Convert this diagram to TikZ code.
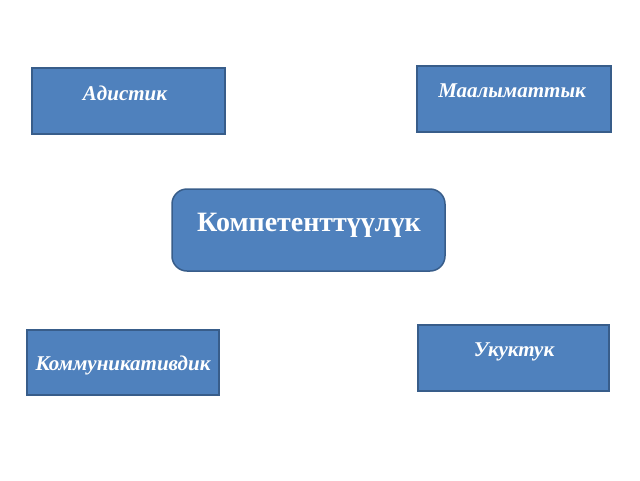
\documentclass[tikz,border=0pt]{standalone}
\usepackage{fontspec}
\setmainfont{Liberation Serif}
\definecolor{boxfill}{HTML}{4F81BD}
\definecolor{boxline}{HTML}{385D8A}
\begin{document}
\begin{tikzpicture}[x=1pt,y=-1pt,
  smallbox/.style={draw=boxline,line width=1.5pt,fill=boxfill},
  bigbox/.style={draw=boxline,line width=1.5pt,fill=boxfill,rounded corners=15pt},
  smalltext/.style={text=white,font=\fontsize{21}{24}\selectfont\bfseries\itshape,inner sep=0pt},
  bigtext/.style={text=white,font=\fontsize{28}{32}\selectfont\bfseries,inner sep=0pt}]
\useasboundingbox (0,0) rectangle (640,480);
\draw[smallbox] (32,68) rectangle (225,134);
\draw[smallbox] (417,66) rectangle (611,132);
\draw[bigbox] (172,189) rectangle (445,271);
\draw[smallbox] (27,330) rectangle (219,395);
\draw[smallbox] (418,325) rectangle (609,391);
\node[smalltext] (a) at (125,93) {Адистик};
\node[smalltext] (m) at (512,91) {Маалыматтык};
\node[bigtext] (k) at (309,225) {Компетенттүүлүк};
\node[smalltext] (c) at (123,365) {Коммуникативдик};
\node[smalltext] (u) at (514,352) {Укуктук};
\end{tikzpicture}
\end{document}
